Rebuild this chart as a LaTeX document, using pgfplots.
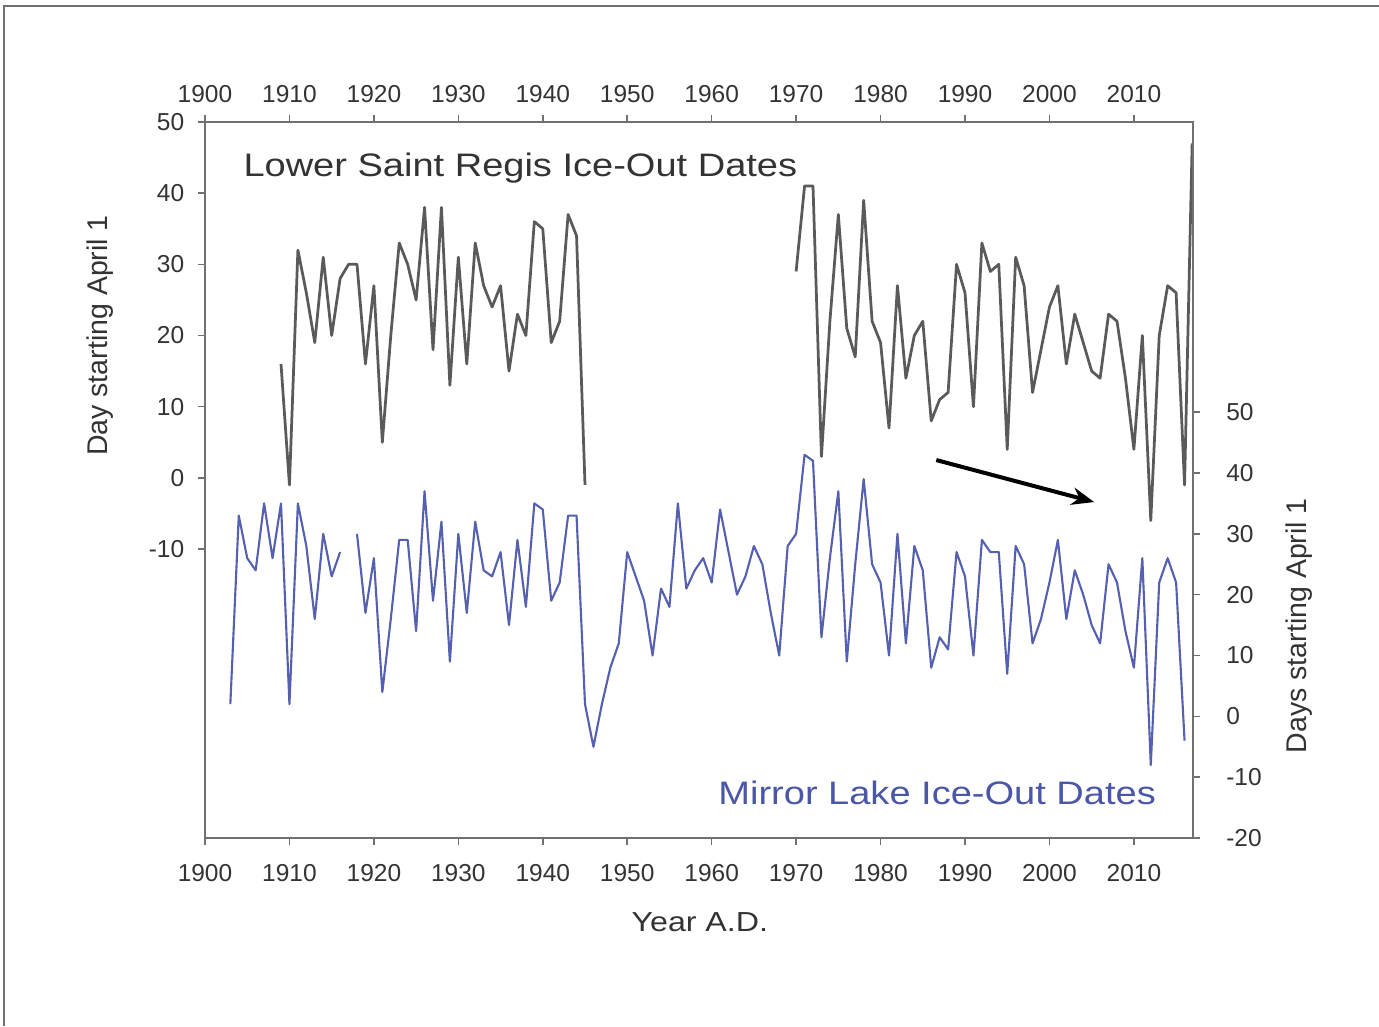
\documentclass[border=0pt]{standalone}
\usepackage{pgfplots}
\pgfplotsset{compat=1.18}
\usepackage{graphicx}
\usepackage{fontspec}
\setmainfont{Liberation Sans}
\usetikzlibrary{arrows.meta}
\definecolor{greyline}{HTML}{5A5A5A}
\definecolor{blueline}{HTML}{5561B0}
\definecolor{axisgrey}{HTML}{707070}
\definecolor{textgrey}{HTML}{333333}
\definecolor{bluetext}{HTML}{4A56A6}

\pgfplotstableread{
year val
1909 16
1910 -1
1911 32
1912 26
1913 19
1914 31
1915 20
1916 28
1917 30
1918 30
1919 16
1920 27
1921 5
1922 20
1923 33
1924 30
1925 25
1926 38
1927 18
1928 38
1929 13
1930 31
1931 16
1932 33
1933 27
1934 24
1935 27
1936 15
1937 23
1938 20
1939 36
1940 35
1941 19
1942 22
1943 37
1944 34
1945 -1
1946 nan
1970 29
1971 41
1972 41
1973 3
1974 22
1975 37
1976 21
1977 17
1978 39
1979 22
1980 19
1981 7
1982 27
1983 14
1984 20
1985 22
1986 8
1987 11
1988 12
1989 30
1990 26
1991 10
1992 33
1993 29
1994 30
1995 4
1996 31
1997 27
1998 12
1999 18
2000 24
2001 27
2002 16
2003 23
2004 19
2005 15
2006 14
2007 23
2008 22
2009 14
2010 4
2011 20
2012 -6
2013 20
2014 27
2015 26
2016 -1
2016.9 47
}\regis

\pgfplotstableread{
year val
1903 2
1904 33
1905 26
1906 24
1907 35
1908 26
1909 35
1910 2
1911 35
1912 28
1913 16
1914 30
1915 23
1916 27
1917 nan
1918 30
1919 17
1920 26
1921 4
1922 16
1923 29
1924 29
1925 14
1926 37
1927 19
1928 32
1929 9
1930 30
1931 17
1932 32
1933 24
1934 23
1935 27
1936 15
1937 29
1938 18
1939 35
1940 34
1941 19
1942 22
1943 33
1944 33
1945 2
1946 -5
1947 2
1948 8
1949 12
1950 27
1951 23
1952 19
1953 10
1954 21
1955 18
1956 35
1957 21
1958 24
1959 26
1960 22
1961 34
1962 27
1963 20
1964 23
1965 28
1966 25
1967 17
1968 10
1969 28
1970 30
1971 43
1972 42
1973 13
1974 26
1975 37
1976 9
1977 25
1978 39
1979 25
1980 22
1981 10
1982 30
1983 12
1984 28
1985 24
1986 8
1987 13
1988 11
1989 27
1990 23
1991 10
1992 29
1993 27
1994 27
1995 7
1996 28
1997 25
1998 12
1999 16
2000 22
2001 29
2002 16
2003 24
2004 20
2005 15
2006 12
2007 25
2008 22
2009 14
2010 8
2011 26
2012 -8
2013 22
2014 26
2015 22
2016 -4
}\mirror

\pgfplotsset{
  common/.style={
    scale only axis, width=395.2pt, height=286.4pt,
    at={(82pt,75.2pt)}, anchor=south west,
    xmin=1900, xmax=2017,
    xtick={1900,1910,...,2010},
    tick align=outside,
    major tick length=2.8pt,
    axis line style={axisgrey, line width=0.8pt},
    every tick/.style={axisgrey, line width=0.6pt},
    tick label style={font=\fontsize{9.8}{11}\selectfont, text=textgrey},
    /pgf/number format/assume math mode=true,
    /pgf/number format/1000 sep={},
    unbounded coords=jump,
    clip mode=individual,
  }
}

\begin{document}
\begin{tikzpicture}
\useasboundingbox (0,0) rectangle (551.6pt,410.4pt);
\draw[axisgrey, line width=0.8pt] (1.6pt,0) -- (1.6pt,408pt) -- (551.6pt,408pt);

\begin{axis}[common,
  ymin=-50.6, ymax=50,
  ytick={-10,0,...,50},
  xtick pos=lower, ytick pos=left,
  xticklabel pos=lower, yticklabel pos=left,
  xticklabel style={yshift=-4.4pt},
  yticklabel style={xshift=-2pt}]
  \addplot[greyline, line width=1.1pt, line join=round] table[x=year, y=val] {\regis};
  \node[anchor=west, inner sep=0pt, text=textgrey] at (axis cs:1904.5,43.5)
    {\scalebox{1.17}[1]{\fontsize{13}{15}\selectfont Lower Saint Regis Ice-Out Dates}};
  \node[anchor=east, inner sep=0pt, text=bluetext] at (axis cs:2012.66,-44.2)
    {\scalebox{1.17}[1]{\fontsize{13}{15}\selectfont Mirror Lake Ice-Out Dates}};
  \node[text=textgrey] at (axis cs:1958.6,-62.4)
    {\scalebox{1.17}[1]{\fontsize{11}{13}\selectfont Year A.D.}};
  \node[rotate=90, text=textgrey, font=\fontsize{11.4}{13}\selectfont] at (axis cs:1887.6,20) {Day starting April 1};
  \node[rotate=90, text=textgrey, font=\fontsize{11.4}{13}\selectfont] at (axis cs:2029.6,-20.76) {Days starting April 1};
  \draw[black, line width=1.6pt, -{Stealth[length=9pt,width=7pt]}] (axis cs:1986.6,2.5) -- (axis cs:2005.3,-3.4);
\end{axis}

\begin{axis}[common,
  ymin=-20, ymax=97.7,
  ytick={-20,-10,...,50},
  xtick pos=upper, ytick pos=right,
  xticklabel pos=upper, yticklabel pos=right,
  xticklabel style={yshift=1.2pt},
  yticklabel style={xshift=7pt}]
  \addplot[blueline, line width=0.85pt, line join=round] table[x=year, y=val] {\mirror};
\end{axis}
\end{tikzpicture}
\end{document}
